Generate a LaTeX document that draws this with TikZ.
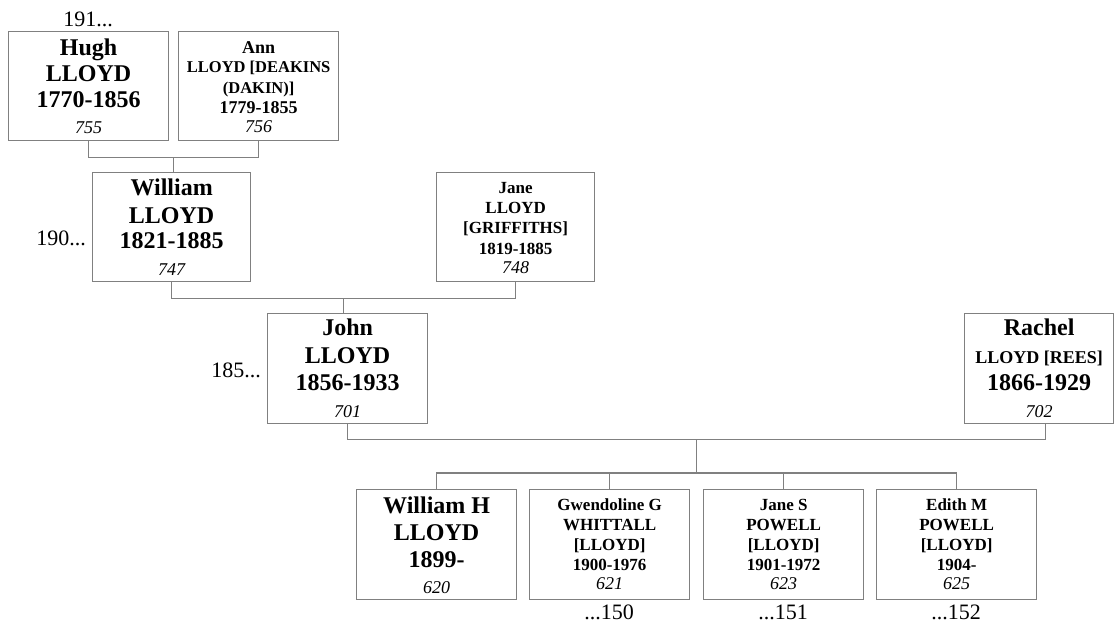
\documentclass[tikz,border=0pt]{standalone}
\usepackage{fontspec}
\setmainfont{Liberation Serif}
\usetikzlibrary{calc}
\definecolor{linegray}{RGB}{128,128,128}
\newcommand\fBig{\bfseries\fontsize{24}{26}\selectfont}
\newcommand\fMid{\bfseries\fontsize{18}{20}\selectfont}
\newcommand\fSm{\bfseries\fontsize{17}{19}\selectfont}
\newcommand\fXs{\bfseries\fontsize{16.5}{18}\selectfont}
\newcommand\fNum{\itshape\fontsize{18}{20}\selectfont}
\newcommand\fLab{\fontsize{22}{24}\selectfont}
% \tl{font}{name}{box}{baseline offset}{text}
\newcommand\tl[5]{\node[anchor=base,inner sep=0pt,font=#1] (#2) at ($(#3.north)+(0,#4)$) {#5};}
\begin{document}
\begin{tikzpicture}[x=1pt,y=-1pt,
  pbox/.style={draw=linegray,line width=1.3pt,minimum width=160pt,minimum height=109pt,inner sep=0pt,anchor=north west},
  conn/.style={draw=linegray,line width=1.3pt},
  lab/.style={inner sep=0pt,font=\fLab}]
\useasboundingbox (0,0) rectangle (1115,625);
% boxes
\node[pbox] (hugh) at (8,31) {};
\node[pbox] (ann) at (178,31) {};
\node[pbox,minimum width=158pt] (william) at (92,172) {};
\node[pbox,minimum width=158pt] (jane) at (436,172) {};
\node[pbox,minimum height=110pt] (john) at (267,313) {};
\node[pbox,minimum width=149pt,minimum height=110pt] (rachel) at (964,313) {};
\node[pbox,minimum height=110pt] (wh) at (356,489) {};
\node[pbox,minimum height=110pt] (gw) at (529,489) {};
\node[pbox,minimum height=110pt] (js) at (703,489) {};
\node[pbox,minimum height=110pt] (ed) at (876,489) {};
% texts
\tl{\fBig}{hugh1}{hugh}{24}{Hugh}
\tl{\fBig}{hugh2}{hugh}{50}{LLOYD}
\tl{\fBig}{hugh3}{hugh}{76}{1770-1856}
\tl{\fNum}{hugh4}{hugh}{102}{755}
\tl{\fMid}{ann1}{ann}{22}{Ann}
\tl{\fXs}{ann2}{ann}{41}{LLOYD [DEAKINS}
\tl{\fXs}{ann3}{ann}{62}{(DAKIN)]}
\tl{\fMid}{ann4}{ann}{82}{1779-1855}
\tl{\fNum}{ann5}{ann}{101}{756}
\tl{\fBig}{william1}{william}{23}{William}
\tl{\fBig}{william2}{william}{51}{LLOYD}
\tl{\fBig}{william3}{william}{76}{1821-1885}
\tl{\fNum}{william4}{william}{103}{747}
\tl{\fSm}{jane1}{jane}{21}{Jane}
\tl{\fSm}{jane2}{jane}{41}{LLOYD}
\tl{\fSm}{jane3}{jane}{61}{[GRIFFITHS]}
\tl{\fSm}{jane4}{jane}{82}{1819-1885}
\tl{\fNum}{jane5}{jane}{101}{748}
\tl{\fBig}{john1}{john}{22}{John}
\tl{\fBig}{john2}{john}{50}{LLOYD}
\tl{\fBig}{john3}{john}{77}{1856-1933}
\tl{\fNum}{john4}{john}{104}{701}
\tl{\fBig}{rachel1}{rachel}{22}{Rachel}
\tl{\fMid}{rachel2}{rachel}{50}{LLOYD [REES]}
\tl{\fBig}{rachel3}{rachel}{77}{1866-1929}
\tl{\fNum}{rachel4}{rachel}{104}{702}
\tl{\fBig}{wh1}{wh}{24}{William H}
\tl{\fBig}{wh2}{wh}{51}{LLOYD}
\tl{\fBig}{wh3}{wh}{78}{1899-}
\tl{\fNum}{wh4}{wh}{104}{620}
\tl{\fSm}{gw1}{gw}{21}{Gwendoline G}
\tl{\fSm}{gw2}{gw}{41}{WHITTALL}
\tl{\fSm}{gw3}{gw}{61}{[LLOYD]}
\tl{\fSm}{gw4}{gw}{81}{1900-1976}
\tl{\fNum}{gw5}{gw}{100}{621}
\tl{\fSm}{js1}{js}{21}{Jane S}
\tl{\fSm}{js2}{js}{41}{POWELL}
\tl{\fSm}{js3}{js}{61}{[LLOYD]}
\tl{\fSm}{js4}{js}{81}{1901-1972}
\tl{\fNum}{js5}{js}{100}{623}
\tl{\fSm}{ed1}{ed}{21}{Edith M}
\tl{\fSm}{ed2}{ed}{41}{POWELL}
\tl{\fSm}{ed3}{ed}{61}{[LLOYD]}
\tl{\fSm}{ed4}{ed}{81}{1904-}
\tl{\fNum}{ed5}{ed}{100}{625}
% outside labels
\node[lab,anchor=base] (l191) at (88,26) {191...};
\node[lab,anchor=base east] (l190) at (86,245) {190...};
\node[lab,anchor=base east] (l185) at (261,377) {185...};
\node[lab,anchor=base] (l150) at (609,619) {...150};
\node[lab,anchor=base] (l151) at (783,619) {...151};
\node[lab,anchor=base] (l152) at (956,619) {...152};
% connectors
\coordinate (c1) at ($(hugh.south)!0.5!(ann.south)+(0,16)$);
\draw[conn] (hugh.south) -- ++(0,16) -| (ann.south);
\draw[conn] (c1) -- (c1 |- william.north);
\coordinate (c2) at ($(william.south)!0.5!(jane.south)+(0,16)$);
\draw[conn] (william.south) -- ++(0,16) -| (jane.south);
\draw[conn] (c2) -- (c2 |- john.north);
\coordinate (rs) at ($(rachel.south)+(6,0)$);
\coordinate (c3) at ($(john.south)!0.5!(rs)+(0,15)$);
\draw[conn] (john.south) -- ++(0,15) -| (rs);
\coordinate (kids) at ($(c3 |- wh.north)+(0,-16)$);
\draw[conn] (c3) -- (kids);
\draw[conn] (wh.north) -- ++(0,-16) -| (ed.north);
\draw[conn] (gw.north) -- ++(0,-16);
\draw[conn] (js.north) -- ++(0,-16);
\end{tikzpicture}
\end{document}
